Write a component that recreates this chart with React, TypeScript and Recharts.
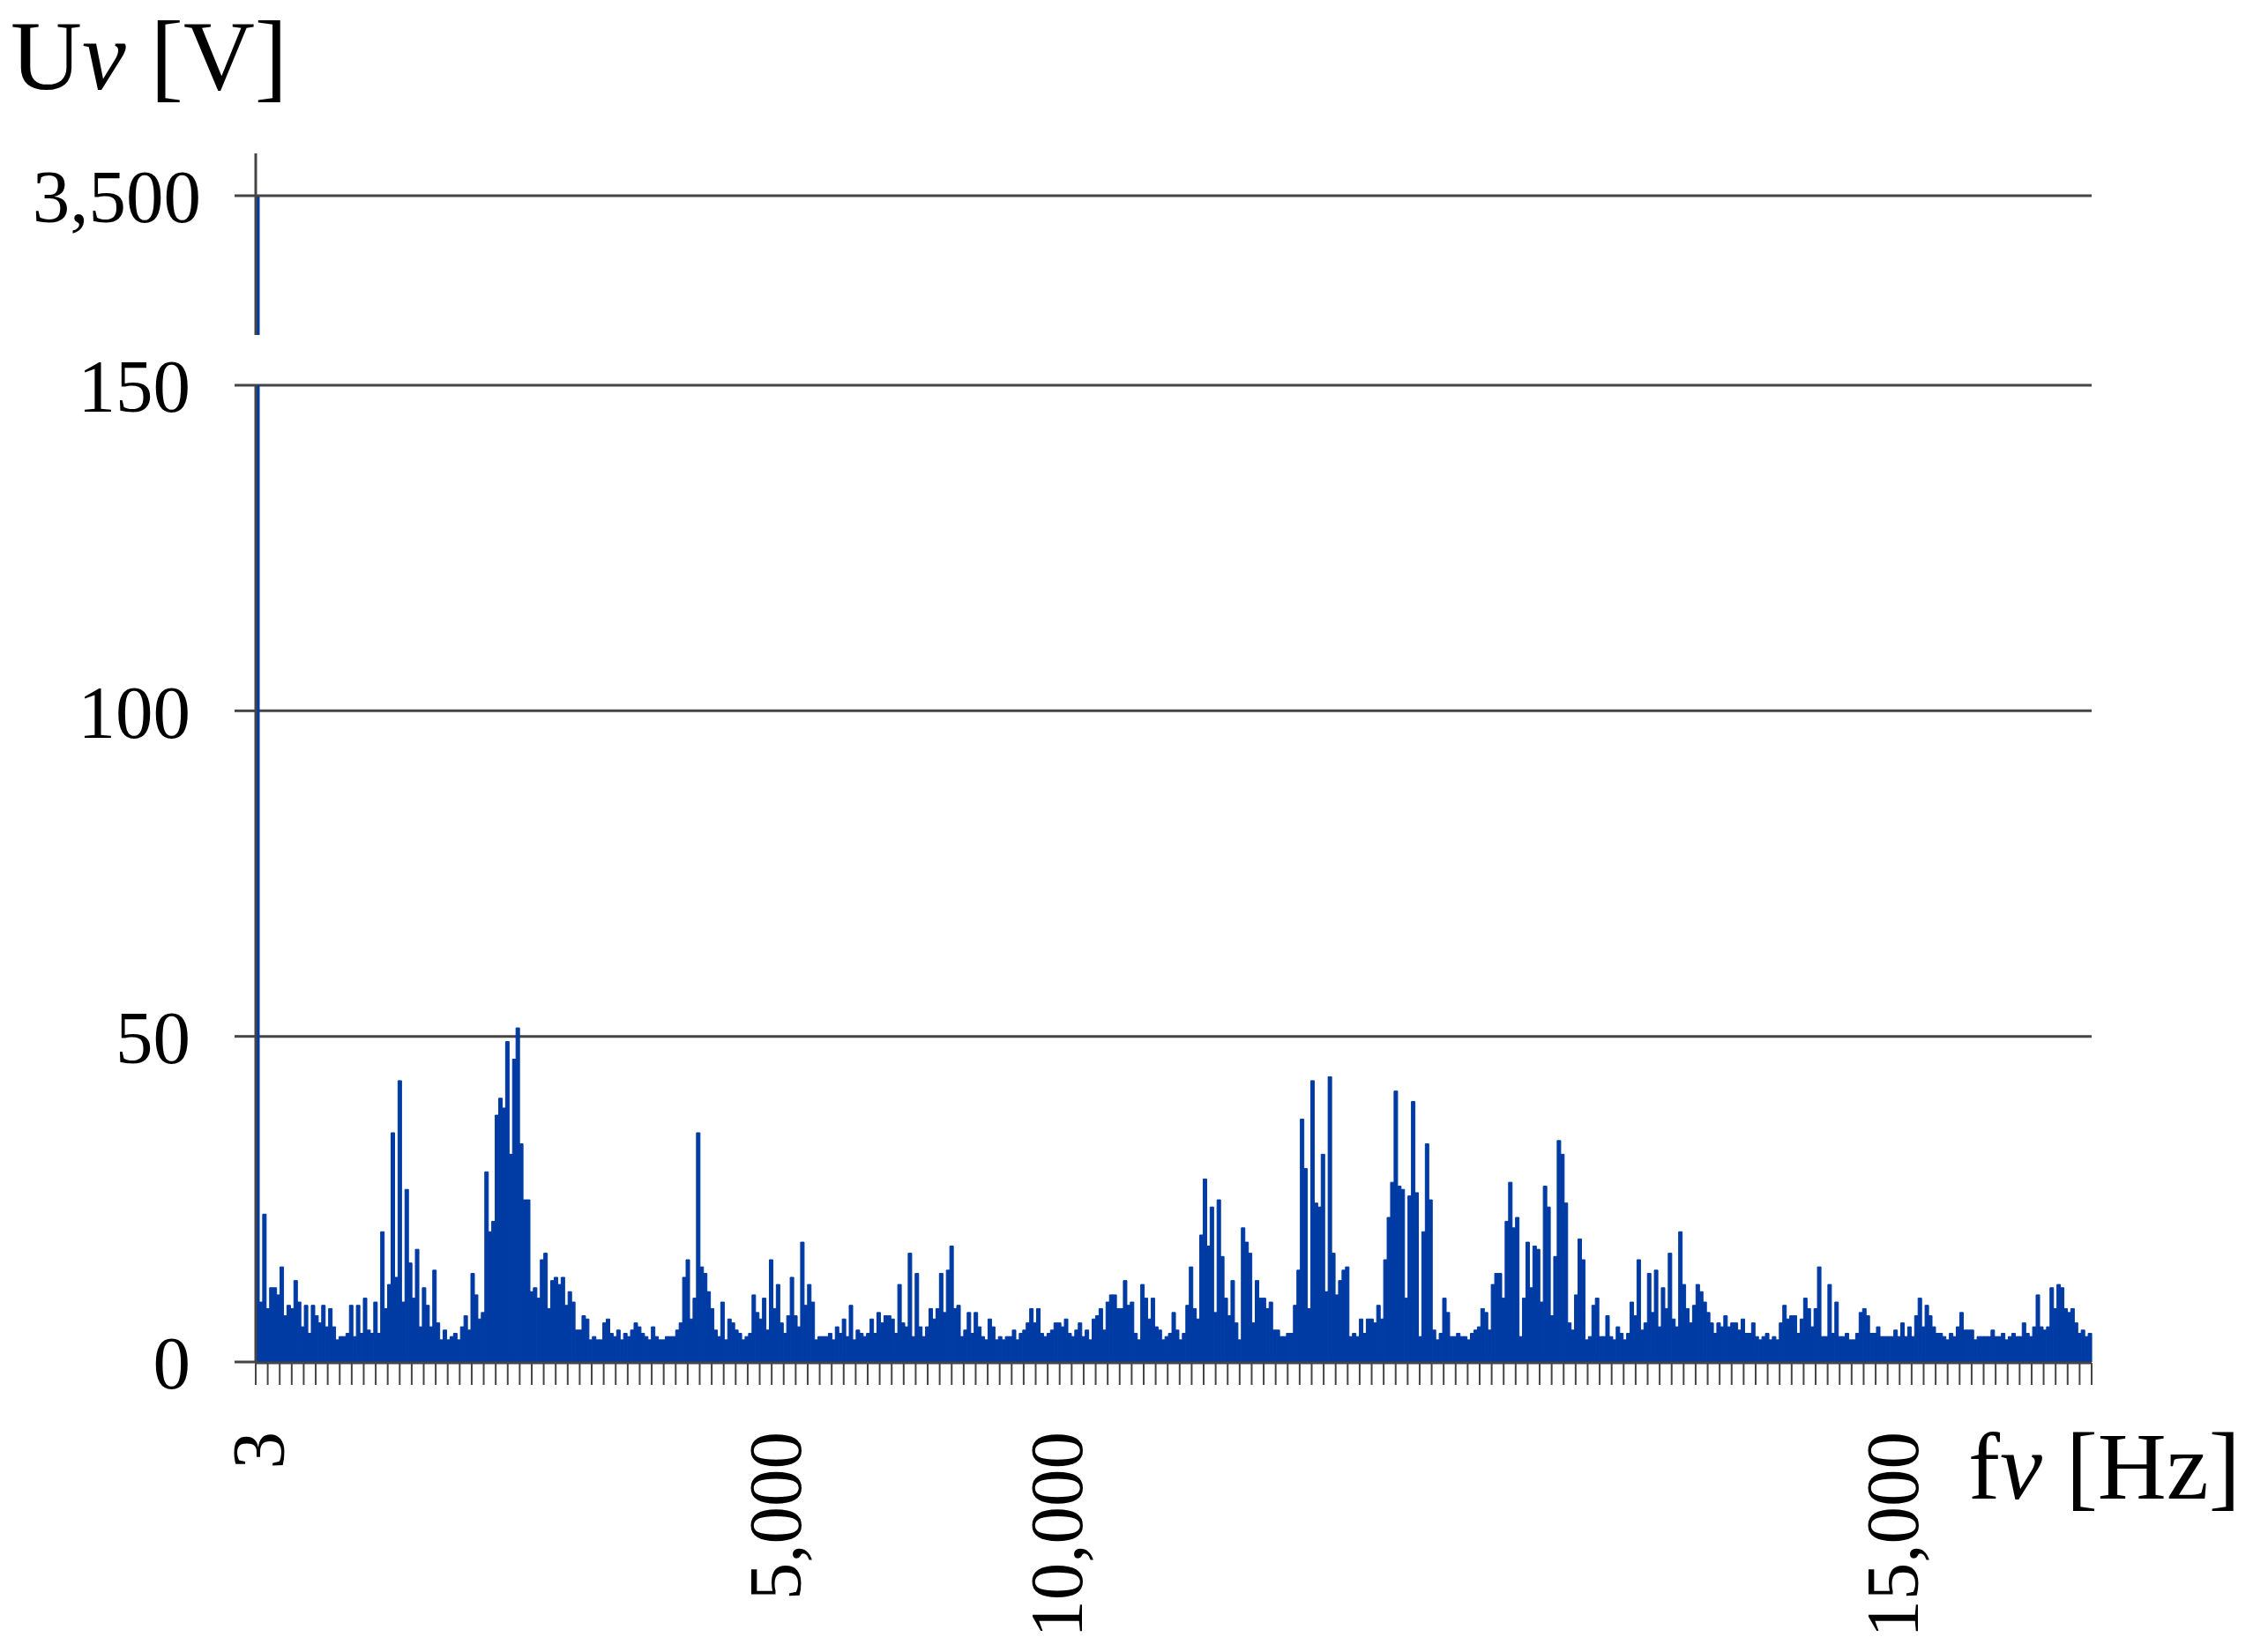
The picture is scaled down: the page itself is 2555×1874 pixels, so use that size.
import React from 'react';
import { BarChart, Bar, XAxis, YAxis, CartesianGrid, ReferenceLine } from 'recharts';

// spectrum amplitudes [V], one bar per frequency bin, read left to right
const seg1 = [
  3500, 9.2, 22.7, 8.2, 11.4, 11.4, 10.3, 14.6, 7.1, 8.7, 8.2, 12.5, 9.2, 5.4, 8.7, 4.4, 8.7, 7.1, 6, 8.7, 5.4, 8.2,
  5.4, 3.4, 3.9, 3.9, 4.4, 8.7, 3.9, 8.7, 4.4, 9.8, 4.9, 4.4, 9.2, 4.4, 20, 8.2, 11.9, 35.2, 13, 43.2, 9.2, 26.5, 15.2,
  9.8, 17.3, 5.4, 11.4, 8.7, 5.4, 14.1, 6, 3.4, 4.9, 3.4, 3.9, 4.4, 3.4, 5.4, 7.1, 4.9, 13.6, 10.3, 6.6, 7.6, 29.2, 20,
  21.6, 37.9, 40.5, 39, 49.2, 31.9, 46.5, 51.3, 33.5, 24.9, 24.9, 10.8, 11.4, 9.8, 15.7, 16.7, 8.2, 12.5, 13, 11.9,
];
const seg2 = [
  13, 8.7, 10.8, 9.2, 4.9, 4.9, 7.1, 6.6, 3.4, 3.9, 3.4, 3.4, 6, 6.6, 4.4, 3.9, 4.9, 3.4, 4.4, 3.9, 4.9, 6, 5.4, 4.4,
  3.9, 3.4, 5.4, 3.9, 3.4, 3.4, 3.9, 3.9, 3.9, 4.9, 6, 13, 15.7, 6.6, 9.8, 35.2, 14.6, 13.6, 10.8, 8.2, 4.9, 3.9, 9.2,
  3.4, 6.6, 6, 4.9, 4.4, 3.4, 3.9, 4.4, 10.3, 7.6, 6.6, 9.8, 4.9, 15.7, 8.2, 11.9, 6, 4.4, 7.1, 13, 7.1, 5.4, 18.4, 8.7,
  11.9, 9.2, 3.4, 3.9, 3.9, 3.9, 4.4, 3.4, 5.4, 4.4, 6.6, 3.9, 8.7, 3.4, 4.9, 4.4,
];
const seg3 = [
  3.9, 4.4, 6.6, 4.4, 7.6, 6, 7.1, 7.1, 6.6, 4.4, 11.9, 6, 5.4, 16.7, 3.9, 13.6, 5.4, 3.9, 5.4, 8.2, 6.6, 8.2, 13.6,
  7.6, 14.1, 17.8, 8.2, 8.7, 3.9, 4.9, 7.6, 4.4, 7.6, 5.4, 3.9, 3.4, 6.6, 5.4, 3.4, 3.9, 3.4, 3.9, 3.9, 4.9, 3.4, 4.4,
  4.9, 6, 8.2, 6, 8.2, 4.4, 3.9, 4.4, 4.9, 6, 6, 5.4, 6.6, 4.4, 3.9, 4.9, 6, 3.9, 4.9, 3.4, 6.6, 7.1, 8.2, 4.9, 9.2,
  10.3, 10.3, 8.2, 8.2, 12.5, 8.7, 9.2, 4.4, 3.4, 11.9, 9.8, 6.6, 9.8, 5.4, 4.9, 3.4, 3.9,
];
const seg4 = [
  4.4, 7.6, 4.9, 3.4, 4.4, 8.7, 14.6, 8.2, 6.6, 19.5, 28.1, 17.8, 23.8, 7.6, 24.9, 16.2, 9.8, 7.1, 12.5, 6, 3.4, 20.6,
  18.4, 16.7, 6, 12.5, 9.8, 9.8, 8.2, 9.2, 4.9, 4.9, 3.9, 3.9, 4.4, 4.4, 8.7, 14.1, 37.3, 29.7, 8.2, 43.2, 24.4, 23.8,
  31.9, 10.8, 43.8, 16.7, 10.3, 12.5, 14.1, 14.6, 3.9, 4.4, 3.9, 6.6, 4.4, 6.6, 6.6, 6, 8.7, 6.6, 15.7, 22.2, 27.6,
  41.6, 27, 26.5, 9.8, 25.5, 40, 26, 3.9, 20, 33.5, 24.9, 4.9, 3.4, 4.4, 9.8, 7.6, 3.9, 3.9, 4.4, 3.9, 3.9, 3.4, 4.4,
];
const seg5 = [
  4.9, 5.4, 8.2, 7.6, 4.9, 11.9, 13.6, 13.6, 9.8, 21.6, 27.6, 20.6, 22.2, 3.9, 9.8, 18.4, 11.4, 17.8, 17.3, 9.2, 27,
  23.8, 7.1, 16.2, 34, 31.9, 24.4, 6, 4.9, 10.3, 18.9, 15.7, 3.4, 3.9, 8.7, 9.8, 3.9, 3.9, 7.1, 3.9, 3.4, 5.4, 4.4, 3.4,
  4.4, 9.2, 7.1, 15.7, 4.9, 6, 13.6, 7.6, 14.1, 5.4, 11.4, 8.2, 16.7, 6.6, 5.4, 20, 11.9, 8.2, 6, 8.7, 11.9, 10.8, 9.2,
  7.6, 6, 4.4, 6, 5.4, 7.1, 5.4, 6, 6, 4.9, 6.6, 4.4, 4.4, 6, 3.9, 3.4, 3.9, 4.4, 3.4, 3.9,
];
const seg6 = [
  3.4, 6, 8.7, 6.6, 7.1, 7.1, 4.4, 6.6, 9.8, 8.2, 5.4, 8.2, 14.6, 3.9, 3.9, 11.9, 4.4, 9.2, 3.9, 3.9, 4.4, 3.4, 3.4,
  4.4, 7.6, 8.2, 7.1, 4.4, 4.4, 5.4, 3.9, 3.9, 3.9, 3.9, 4.9, 3.9, 6, 3.9, 5.4, 3.9, 7.1, 9.8, 5.4, 8.7, 7.1, 5.4, 4.4,
  4.4, 3.9, 3.4, 4.4, 3.9, 5.4, 7.6, 4.9, 4.9, 4.9, 3.4, 3.9, 3.9, 3.9, 3.9, 4.9, 3.9, 3.9, 4.4, 3.4, 3.9, 4.4, 3.9,
  3.9, 6, 4.4, 3.9, 5.4, 10.3, 5.4, 4.9, 5.4, 11.4, 8.2, 11.9, 11.4, 8.2, 7.6, 8.2, 6, 4.4, 4.9, 3.9, 4.4,
];
const amplitudes = [...seg1, ...seg2, ...seg3, ...seg4, ...seg5, ...seg6];

// labelled bins on the frequency axis
const xTickIndex = [0, 149, 230, 471];
const xTickLabels = ['3', '5,000', '10,000', '15,000'];

// lower (linear) part of the broken value axis
const lowTicks = [0, 50, 100, 150];
// upper part, above the break
const highTicks = [3500];

// minor tick marks along the frequency axis (153 intervals over all bins)
const TICK_INTERVALS = 153;
const lastBin = amplitudes.length - 1;
const tickMarks = Array.from({ length: TICK_INTERVALS + 1 }, (_, k) => (k * lastBin) / TICK_INTERVALS);

const BLUE = '#003BA4';
const GREY = '#454545';
const FONT = 'Liberation Serif';

const rows = amplitudes.map((v, i) => ({ i, v }));
const upperRows = rows.map((r) => ({ i: r.i, v: r.v > 150 ? r.v : null }));

const FreqTick = (props: any) => {
  const { x, y, payload } = props;
  const k = xTickIndex.indexOf(payload.value);
  if (k < 0) return null;
  return (
    <text
      x={x}
      y={y}
      transform={`rotate(-90, ${x}, ${y})`}
      textAnchor="end"
      dy="0.35em"
      fontFamily={FONT}
      fontSize={85}
      fill="#000"
    >
      {xTickLabels[k]}
    </text>
  );
};

const abs: React.CSSProperties = { position: 'absolute', left: 0, top: 0 };

export default function App() {
  return (
    <div style={{ position: 'absolute', left: 0, top: 0, width: 2555, height: 1874, background: '#fff' }}>
      {/* top segment, above the axis break */}
      <div style={abs}>
        <BarChart
          width={2555}
          height={1874}
          data={upperRows}
          margin={{ top: 174, right: 183, bottom: 1494, left: 90 }}
          barCategoryGap={0}
          barGap={0}
        >
          <XAxis xAxisId="cat" dataKey="i" type="category" hide />
          <YAxis
            domain={[1920, 3980]}
            ticks={highTicks}
            allowDataOverflow
            width={200}
            tickSize={24}
            tickMargin={38}
            tickFormatter={(v: number) => v.toLocaleString('en-US')}
            axisLine={{ stroke: GREY, strokeWidth: 3 }}
            tickLine={{ stroke: GREY, strokeWidth: 3 }}
            tick={{ fontSize: 85, fontFamily: FONT, fill: '#000' }}
          />
          <ReferenceLine xAxisId="cat" y={highTicks[0]} stroke={GREY} strokeWidth={3} />
          <Bar
            xAxisId="cat"
            dataKey="v"
            fill={BLUE}
            stroke={BLUE}
            strokeWidth={1}
            isAnimationActive={false}
          />
        </BarChart>
      </div>

      {/* main segment 0..150 */}
      <div style={abs}>
        <BarChart
          width={2555}
          height={1874}
          data={rows}
          margin={{ top: 437, right: 183, bottom: 327, left: 90 }}
          barCategoryGap={0}
          barGap={0}
        >
          <CartesianGrid xAxisId="cat" vertical={false} stroke={GREY} strokeWidth={3} />
          <XAxis
            xAxisId="tick"
            dataKey="i"
            type="number"
            domain={[0, lastBin]}
            ticks={tickMarks}
            allowDataOverflow
            interval={0}
            height={1}
            tickSize={25}
            tickFormatter={() => ''}
            axisLine={{ stroke: GREY, strokeWidth: 3 }}
            tickLine={{ stroke: GREY, strokeWidth: 2 }}
          />
          <XAxis
            xAxisId="cat"
            dataKey="i"
            type="category"
            ticks={xTickIndex}
            interval={0}
            height={1}
            tickSize={0}
            tickMargin={79}
            axisLine={false}
            tickLine={false}
            tick={<FreqTick />}
          />
          <YAxis
            domain={[0, 150]}
            ticks={lowTicks}
            allowDataOverflow
            width={200}
            tickSize={24}
            tickMargin={50}
            axisLine={{ stroke: GREY, strokeWidth: 3 }}
            tickLine={{ stroke: GREY, strokeWidth: 3 }}
            tick={{ fontSize: 85, fontFamily: FONT, fill: '#000' }}
          />
          <Bar
            xAxisId="cat"
            dataKey="v"
            fill={BLUE}
            stroke={BLUE}
            strokeWidth={1}
            isAnimationActive={false}
          />
        </BarChart>
      </div>

      {/* axis titles */}
      <svg width={2555} height={1874} style={{ ...abs, pointerEvents: 'none' }}>
        <text x={12} y={101} fontFamily={FONT} fontSize={112} fill="#000">
          U<tspan fontStyle="italic">v</tspan> [V]
        </text>
        <text x={2232} y={1700} fontFamily={FONT} fontSize={108} fill="#000">
          f<tspan fontStyle="italic">v</tspan> [Hz]
        </text>
      </svg>
    </div>
  );
}
